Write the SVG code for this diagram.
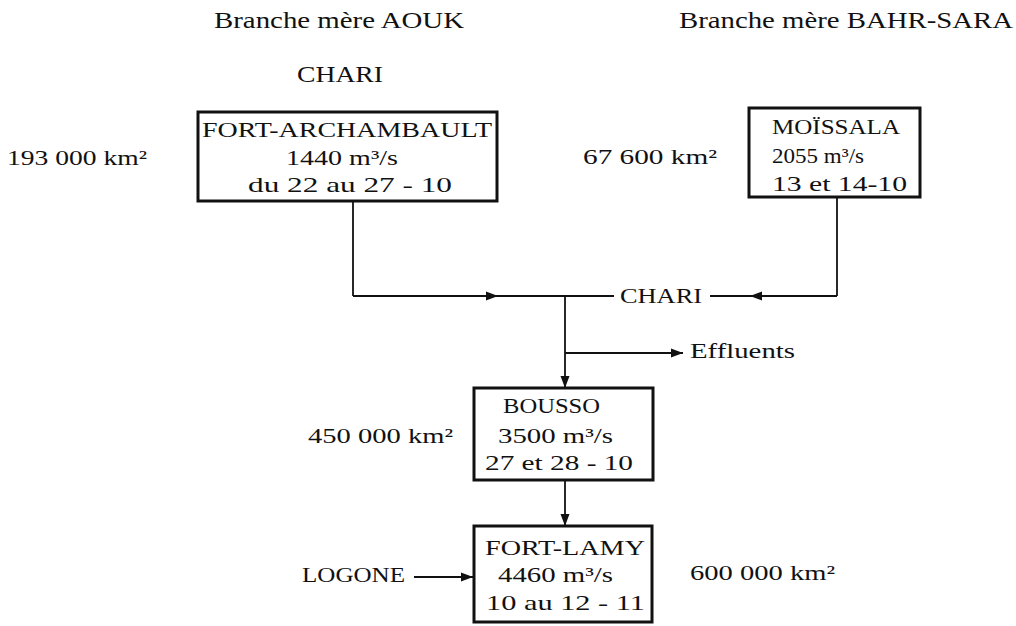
<svg xmlns="http://www.w3.org/2000/svg" width="1016" height="626" viewBox="0 0 1016 626">
<style>
.h{font-family:"Liberation Serif","Times New Roman",serif;font-size:24px;fill:#111}
.t{font-family:"Liberation Serif","Times New Roman",serif;font-size:21px;fill:#111}
.box{fill:none;stroke:#111;stroke-width:3}
.ln{fill:none;stroke:#111;stroke-width:1.8}
</style>
<defs>
<marker id="ah" viewBox="0 0 12 10" refX="12" refY="5" markerWidth="12" markerHeight="10" markerUnits="userSpaceOnUse" orient="auto">
<path d="M0,0.5 L12,5 L0,9.5 z" fill="#111"/>
</marker>
<marker id="ahm" viewBox="0 0 12 10" refX="12" refY="5" markerWidth="12" markerHeight="10" markerUnits="userSpaceOnUse" orient="auto">
<path d="M0,0.5 L12,5 L0,9.5 z" fill="#111"/>
</marker>
</defs>
<rect width="1016" height="626" fill="#fff"/>
<g id="headers">
<text class="h" x="214" y="28" textLength="250" lengthAdjust="spacingAndGlyphs">Branche mère AOUK</text>
<text class="h" x="679" y="28" textLength="334" lengthAdjust="spacingAndGlyphs">Branche mère BAHR-SARA</text>
<text class="h" x="297" y="82" textLength="86" lengthAdjust="spacingAndGlyphs">CHARI</text>
</g>
<g id="connectors">
<line class="ln" x1="353" y1="201" x2="353" y2="296"/>
<line class="ln" x1="353" y1="296" x2="498" y2="296" marker-end="url(#ahm)"/>
<line class="ln" x1="496" y1="296" x2="614" y2="296"/>
<line class="ln" x1="837" y1="197" x2="837" y2="296"/>
<line class="ln" x1="837" y1="296" x2="750" y2="296" marker-end="url(#ahm)"/>
<line class="ln" x1="752" y1="296" x2="710" y2="296"/>
<line class="ln" x1="565" y1="296" x2="565" y2="388" marker-end="url(#ah)"/>
<line class="ln" x1="565" y1="353" x2="683" y2="353" marker-end="url(#ah)"/>
<line class="ln" x1="565" y1="480" x2="565" y2="526" marker-end="url(#ah)"/>
<line class="ln" x1="414" y1="577" x2="473" y2="577" marker-end="url(#ah)"/>
</g>
<g id="fort-archambault">
<rect class="box" x="198" y="112" width="299" height="89"/>
<text class="t" x="202" y="137" textLength="290" lengthAdjust="spacingAndGlyphs">FORT-ARCHAMBAULT</text>
<text class="t" x="286" y="165" textLength="112" lengthAdjust="spacingAndGlyphs">1440 m³/s</text>
<text class="t" x="248" y="192" textLength="204" lengthAdjust="spacingAndGlyphs">du 22 au 27 - 10</text>
</g>
<text class="t" x="7" y="165" textLength="140" lengthAdjust="spacingAndGlyphs">193 000 km²</text>
<g id="moissala">
<rect class="box" x="749" y="108" width="171" height="89"/>
<text class="t" x="772" y="134" textLength="128" lengthAdjust="spacingAndGlyphs">MOÏSSALA</text>
<text class="t" x="772" y="163" textLength="92" lengthAdjust="spacingAndGlyphs">2055 m³/s</text>
<text class="t" x="772" y="191" textLength="135" lengthAdjust="spacingAndGlyphs">13 et 14-10</text>
</g>
<text class="t" x="583" y="164" textLength="134" lengthAdjust="spacingAndGlyphs">67 600 km²</text>
<text class="t" x="620" y="303" textLength="82" lengthAdjust="spacingAndGlyphs">CHARI</text>
<text class="t" x="690" y="358" textLength="105" lengthAdjust="spacingAndGlyphs">Effluents</text>
<g id="bousso">
<rect class="box" x="474" y="388" width="179" height="92"/>
<text class="t" x="503" y="413" textLength="97" lengthAdjust="spacingAndGlyphs">BOUSSO</text>
<text class="t" x="498" y="443" textLength="115" lengthAdjust="spacingAndGlyphs">3500 m³/s</text>
<text class="t" x="485" y="470" textLength="148" lengthAdjust="spacingAndGlyphs">27 et 28 - 10</text>
</g>
<text class="t" x="308" y="443" textLength="145" lengthAdjust="spacingAndGlyphs">450 000 km²</text>
<g id="fort-lamy">
<rect class="box" x="474" y="526" width="178" height="96"/>
<text class="t" x="485" y="555" textLength="160" lengthAdjust="spacingAndGlyphs">FORT-LAMY</text>
<text class="t" x="498" y="582" textLength="115" lengthAdjust="spacingAndGlyphs">4460 m³/s</text>
<text class="t" x="486" y="610" textLength="159" lengthAdjust="spacingAndGlyphs">10 au 12 - 11</text>
</g>
<text class="t" x="302" y="582" textLength="103" lengthAdjust="spacingAndGlyphs">LOGONE</text>
<text class="t" x="690" y="580" textLength="145" lengthAdjust="spacingAndGlyphs">600 000 km²</text>
</svg>
